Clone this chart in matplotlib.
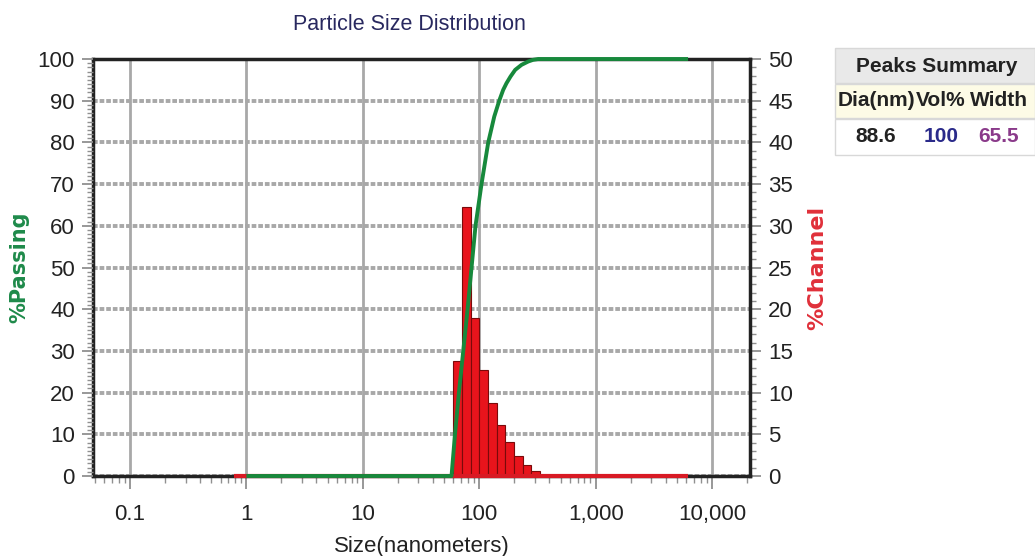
import matplotlib
matplotlib.use("Agg")
import matplotlib.pyplot as plt
from matplotlib.ticker import FixedLocator, FixedFormatter, MultipleLocator, NullFormatter, LogLocator
from matplotlib.patches import Rectangle

# ---- data ----
title = "Particle Size Distribution"
x_ticks = [0.1, 1, 10, 100, 1000, 10000]
x_tick_labels = ["0.1", "1", "10", "100", "1,000", "10,000"]

# channel edges (nm) and %Channel per channel
channel_edges = [59.8, 71.0, 84.3, 100.0, 118.8, 141.0, 167.4, 198.8, 236.0, 280.2, 332.7]
channel_pct = [13.8, 32.2, 19.0, 12.7, 8.7, 6.1, 4.1, 2.4, 1.3, 0.6]
channel_range = [0.79, 6220]

# cumulative %Passing curve
passing_size = [1.0, 57.8, 61.9, 66.9, 72.9, 79.4, 85.9, 92.9, 104.6, 119.5, 134.6, 148.5,
                160.6, 171.5, 185.7, 203.7, 230.9, 263.7, 290, 321, 6220]
passing_pct = [0, 0, 10, 20, 30, 40, 50, 60, 70, 80, 86.2, 90,
               92.6, 94.2, 95.8, 97.4, 98.6, 99.4, 99.8, 100, 100]

table_header = "Peaks Summary"
table_cols = ["Dia(nm)", "Vol%", "Width"]
table_vals = ["88.6", "100", "65.5"]

plt.rcParams['font.family'] = ['Liberation Sans', 'DejaVu Sans']

fig = plt.figure(figsize=(10.35, 5.56), dpi=100)
ax2 = fig.add_axes([93/1035, 1-476/556, (750-93)/1035, (476-59)/556])
ax1 = ax2.twinx()
ax1.set_zorder(ax2.get_zorder() + 1)
ax1.patch.set_visible(False)

ax2.set_xscale('log')
ax2.set_xlim(0.0481, 21180)
ax2.set_ylim(0, 50)
ax1.set_ylim(0, 100)

# grid on ax2 (bottom)
ax2.set_axisbelow(True)
grid_col = '#a8a8a8'
ax2.yaxis.set_major_locator(MultipleLocator(5))
ax2.xaxis.set_major_locator(FixedLocator(x_ticks))
ax2.xaxis.set_major_formatter(FixedFormatter(x_tick_labels))
ax2.xaxis.set_minor_locator(LogLocator(base=10, subs=range(2, 10), numticks=20))
ax2.xaxis.set_minor_formatter(NullFormatter())
ax2.grid(True, axis='x', which='major', color=grid_col, lw=2.0, ls='-')
ax2.grid(True, axis='y', which='major', color=grid_col, lw=2.8, ls=(0, (1.2, 0.5)))

# bars
lefts = channel_edges[:-1]
widths = [r - l for l, r in zip(channel_edges[:-1], channel_edges[1:])]
ax2.bar(lefts, channel_pct, width=widths, align='edge', color='#e8141c',
        edgecolor='#7a0a0a', linewidth=0.8, zorder=2)
ax2.plot(channel_range, [0, 0], color='#d81a24', lw=3, zorder=4, clip_on=False,
         solid_capstyle='butt')

# cumulative curve
ax1.plot(passing_size, passing_pct, color='#17893c', lw=2.8, zorder=5, clip_on=False,
         solid_capstyle='butt', solid_joinstyle='round')

# spines
for s in ax1.spines.values():
    s.set_visible(False)
for s in ax2.spines.values():
    s.set_color('#222222')
    s.set_linewidth(2.5)

tick_col = '#909090'
ax1.yaxis.set_major_locator(MultipleLocator(10))
ax1.yaxis.set_minor_locator(MultipleLocator(1))
ax1.yaxis.tick_left()
ax1.yaxis.set_label_position('left')
ax2.yaxis.tick_right()
ax2.yaxis.set_label_position('right')
ax2.yaxis.set_minor_locator(MultipleLocator(1))

ax1.tick_params(axis='y', which='major', length=8, width=1.3, color=tick_col, labelsize=16,
                pad=5, labelcolor='#222222')
ax1.tick_params(axis='y', which='minor', length=4, width=1, color=tick_col)
ax2.tick_params(axis='y', which='major', length=8, width=1.3, color=tick_col, labelsize=16,
                pad=5, labelcolor='#222222')
ax2.tick_params(axis='y', which='minor', length=4, width=1, color=tick_col)
ax2.tick_params(axis='x', which='major', length=9, width=1.3, color=tick_col, labelsize=16,
                pad=11, labelcolor='#222222')
ax2.tick_params(axis='x', which='minor', length=5, width=1, color=tick_col)

ax1.set_ylabel('%Passing', color='#1e8a4a', fontsize=15, fontweight='bold',
               family=['DejaVu Sans'], labelpad=6)
ax2.set_ylabel('%Channel', color='#e0303a', fontsize=16, fontweight='bold',
               family=['DejaVu Sans'], labelpad=10)
ax2.set_xlabel('Size(nanometers)', fontsize=16, color='#222222', labelpad=8)

fig.text(409/1035, 1-24/556, title, ha='center', va='center', fontsize=15.5, color='#28285f')

# table
def frect(x0, y0, x1, y1, fc, ec='#d8d8d8'):
    fig.patches.append(Rectangle((x0/1035, 1-y1/556), (x1-x0)/1035, (y1-y0)/556,
                                 transform=fig.transFigure, facecolor=fc, edgecolor=ec, lw=1))

frect(835, 48, 1035, 83, '#e9e9e9')
frect(835, 84, 1035, 118, '#fdfbe6')
frect(835, 119, 1035, 155, '#ffffff')
fig.text(937/1035, 1-66/556, table_header, ha='center', va='center', fontsize=15,
         fontweight='bold', color='#222222')
col_x = [876, 941, 999]
for cx, lab in zip(col_x, table_cols):
    fig.text(cx/1035, 1-101/556, lab, ha='center', va='center', fontsize=15,
             fontweight='bold', color='#222222')
val_colors = ['#222222', '#2a2a8a', '#8a3a8a']
for cx, v, c in zip(col_x, table_vals, val_colors):
    fig.text(cx/1035, 1-137/556, v, ha='center', va='center', fontsize=15,
             fontweight='bold', color=c)

fig.savefig('out.png', dpi=100)
